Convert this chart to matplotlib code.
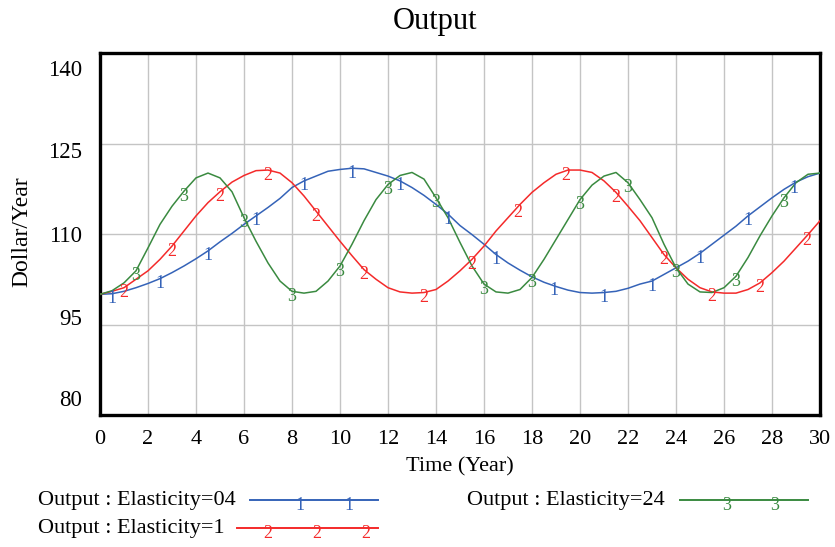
import numpy as np
import matplotlib
matplotlib.use('Agg')
import matplotlib.pyplot as plt
from matplotlib.lines import Line2D

plt.rcParams['font.family'] = ['Liberation Serif', 'DejaVu Serif']

# values, every half year
time = np.arange(0, 30.01, 0.5)

elast_04 = [100.0, 100.1, 100.5, 101.1, 101.8, 102.6, 103.6, 104.7, 105.9, 107.2,
            108.7, 110.1, 111.6, 113.0, 114.4, 115.9, 117.7, 118.8, 119.6, 120.4,
            120.7, 120.9, 120.8, 120.2, 119.6, 118.8, 117.7, 116.4, 114.9, 113.3,
            111.4, 109.9, 108.3, 106.6, 105.2, 104.0, 102.9, 102.0, 101.3, 100.7,
            100.3, 100.2, 100.3, 100.5, 101.0, 101.7, 102.2, 103.3, 104.4, 105.5,
            106.8, 108.3, 109.8, 111.3, 113.0, 114.5, 116.0, 117.4, 118.6, 119.5,
            120.1]

elast_1 = [100.0, 100.5, 101.1, 102.5, 103.9, 105.8, 108.0, 110.5, 113.0, 115.2,
           117.0, 118.6, 119.7, 120.5, 120.6, 120.1, 118.5, 116.3, 113.8, 111.3,
           108.8, 106.4, 104.1, 102.5, 101.1, 100.4, 100.2, 100.3, 100.8, 102.2,
           103.9, 105.8, 108.0, 110.5, 112.7, 114.9, 116.9, 118.5, 119.9, 120.6,
           120.6, 120.2, 118.8, 116.9, 114.6, 112.2, 109.4, 106.6, 104.4, 102.5,
           101.1, 100.4, 100.2, 100.2, 100.8, 101.9, 103.6, 105.5, 107.7, 109.9,
           112.2]

elast_24 = [100.0, 100.6, 101.9, 103.9, 107.7, 111.6, 114.6, 117.1, 119.3, 120.1,
            119.3, 117.0, 112.7, 108.8, 105.2, 102.2, 100.5, 100.2, 100.5, 102.2,
            104.7, 108.3, 112.2, 115.7, 118.2, 119.7, 120.2, 119.1, 116.0, 112.7,
            108.6, 104.7, 101.7, 100.4, 100.2, 100.8, 102.8, 105.8, 109.1, 112.4,
            115.7, 118.1, 119.6, 120.2, 118.5, 115.7, 112.7, 108.3, 104.4, 101.7,
            100.4, 100.3, 101.1, 103.0, 106.1, 109.7, 113.0, 116.0, 118.5, 119.9,
            120.1]

# where the run number is printed along each line
marks_04 = [0.5, 2.5, 4.5, 6.5, 8.5, 10.5, 12.5, 14.5, 16.5, 18.9, 21, 23, 25, 27, 28.9]
marks_1 = [1, 3, 5, 7, 9, 11, 13.5, 15.5, 17.4, 19.4, 21.5, 23.5, 25.5, 27.5, 29.45]
marks_24 = [1.5, 3.5, 6, 8, 10, 12, 14, 16, 18, 20, 22, 24, 26.5, 28.5]

names = ['Output : Elasticity=04', 'Output : Elasticity=1', 'Output : Elasticity=24']
colors = ['#3563b8', '#f42a2a', '#3a8a40']
yticks = [80, 95, 110, 125, 140]

W, H = 835, 547
fig = plt.figure(figsize=(W / 100, H / 100), dpi=100)
ax = fig.add_axes([100 / W, 1 - 415 / H, 720 / W, 362 / H])

series = [(elast_04, marks_04, '1'), (elast_1, marks_1, '2'), (elast_24, marks_24, '3')]
for (vals, marks, tag), c in zip(series, colors):
    ax.plot(time, vals, color=c, lw=1.1, zorder=3)
    for t in marks:
        v = np.interp(t, time, vals)
        ax.annotate(tag, (t, v), xytext=(0, 2.5), textcoords='offset points',
                    ha='center', va='top', color=c, fontsize=13, zorder=4)

ax.set_xlim(0, 30)
ax.set_ylim(80, 140)
ax.set_xticks(np.arange(0, 31, 2))
ax.set_yticks(yticks)
ax.set_yticklabels([])
ax.grid(True, color='#c4c4c4', lw=1.0)
ax.tick_params(length=0, labelsize=16, pad=11)
for s in ax.spines.values():
    s.set_linewidth(2.4)

# Vensim spreads its y labels evenly between the top and bottom edges
label_px = [400, 319.5, 236, 152.5, 70]
for v, py in zip(yticks, label_px):
    ax.text(-18 / 720, (415 - py) / 362, str(v), transform=ax.transAxes,
            ha='right', va='center', fontsize=16.5)

ax.set_xlabel('Time (Year)', fontsize=16, labelpad=6)
fig.text(22 / W, 1 - 232 / H, 'Dollar/Year', rotation=90, ha='center', va='center', fontsize=17)
fig.text(435 / W, 1 - 21 / H, 'Output', ha='center', va='center', fontsize=22)

# legend drawn by hand
def fx(px):
    return px / W

def fy(py):
    return 1 - py / H

legend = [(names[0], colors[0], '1', 38, 500, 250, 378, [300, 349]),
          (names[1], colors[1], '2', 38, 528, 237, 378, [268, 317, 366]),
          (names[2], colors[2], '3', 467, 500, 680, 808, [727, 775])]
for text, c, tag, tx, ty, x0, x1, mk in legend:
    fig.text(fx(tx), fy(ty), text, ha='left', va='center', fontsize=16)
    fig.add_artist(Line2D([fx(x0), fx(x1)], [fy(ty), fy(ty)], color=c, lw=1.4))
    for m in mk:
        fig.text(fx(m), fy(ty - 3), tag, ha='center', va='top', color=c, fontsize=13)

fig.savefig('out.png', dpi=100)
